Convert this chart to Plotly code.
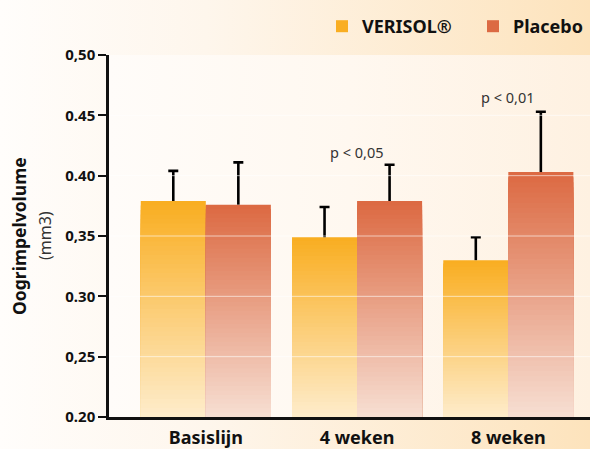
import base64
import plotly.graph_objects as go

categories = ["Basislijn", "4 weken", "8 weken"]
verisol = [0.379, 0.349, 0.330]
verisol_err = [0.025, 0.025, 0.019]
placebo = [0.376, 0.379, 0.403]
placebo_err = [0.035, 0.030, 0.050]
ytick_vals = [0.20, 0.25, 0.30, 0.35, 0.40, 0.45, 0.50]
ytick_text = ["0.20", "0,25", "0.30", "0,35", "0.40", "0.45", "0,50"]
pvals = [("4 weken", 0.42, "p < 0,05"), ("8 weken", 0.465, "p < 0,01")]

BASE = 0.20
N = 48

W, H = 590, 449
ML, MR, MT, MB = 109, 0, 55, 32
PW, PH = W - ML - MR, H - MT - MB


def hex2rgb(h):
    h = h.lstrip("#")
    return tuple(int(h[i:i + 2], 16) for i in (0, 2, 4))


def mix(c1, c2, t):
    a, b = hex2rgb(c1), hex2rgb(c2)
    return "rgb(%d,%d,%d)" % tuple(round(a[i] + (b[i] - a[i]) * t) for i in range(3))


def svg_uri(stops, direction="h"):
    x2, y2 = ("1", "0") if direction == "h" else ("0", "1")
    st = "".join('<stop offset="%s" stop-color="%s" stop-opacity="%s"/>' % s for s in stops)
    svg = ('<svg xmlns="http://www.w3.org/2000/svg" width="100" height="100" preserveAspectRatio="none">'
           '<defs><linearGradient id="g" x1="0" y1="0" x2="%s" y2="%s">%s</linearGradient></defs>'
           '<rect width="100" height="100" fill="url(#g)"/></svg>') % (x2, y2, st)
    return "data:image/svg+xml;base64," + base64.b64encode(svg.encode()).decode()


fig = go.Figure()

series = [
    ("VERISOL®", verisol, verisol_err, "#F9AE22", "#FEEDCD"),
    ("Placebo", placebo, placebo_err, "#DC6A43", "#F7E0D4"),
]

for name, vals, errs, top, bottom in series:
    for k in range(N):
        frac = (N - k) / N
        tops = [(v - BASE) * frac for v in vals]
        color = mix(bottom, top, frac)
        kw = {}
        if k == 0:
            kw["error_y"] = dict(type="data", symmetric=False, array=errs,
                                 arrayminus=[0] * len(errs), color="black",
                                 thickness=2.6, width=0)
        fig.add_trace(go.Bar(
            x=categories, y=tops, base=BASE,
            name="<b>%s</b>" % name,
            offsetgroup=name, marker=dict(color=color, line=dict(width=0)),
            showlegend=(k == 0), legendgroup=name, hoverinfo="skip", **kw))
    # caps of the error bars: zero-length error bars at the top of each whisker
    fig.add_trace(go.Bar(
        x=categories, y=[v + e - BASE for v, e in zip(vals, errs)], base=BASE,
        offsetgroup=name, marker=dict(color="rgba(0,0,0,0)", line=dict(width=0)),
        error_y=dict(type="data", array=[0] * len(vals), color="black", thickness=2.6, width=5),
        showlegend=False, hoverinfo="skip"))

# white gridlines above the bars
for v in ytick_vals[1:-1]:
    fig.add_shape(type="line", xref="paper", yref="y", x0=0, x1=1, y0=v, y1=v,
                  line=dict(color="rgba(255,255,255,0.6)", width=1), layer="above")

for cat, yv, txt in pvals:
    fig.add_annotation(x=cat, y=yv, text=txt, showarrow=False,
                       font=dict(family="Noto Sans", size=14.5, color="#333333"))

fig.add_annotation(x=(19 - ML) / PW, y=0.5, xref="paper", yref="paper",
                   xanchor="center", yanchor="middle",
                   text="<b>Oogrimpelvolume</b>", textangle=-90, showarrow=False,
                   font=dict(family="Noto Sans", size=17.5, color="#111111"))
fig.add_annotation(x=(45 - ML) / PW, y=0.5, xref="paper", yref="paper",
                   xanchor="center", yanchor="middle",
                   text="(mm3)", textangle=-90, showarrow=False,
                   font=dict(family="Noto Sans", size=16, color="#333333"))

# backgrounds
fig.add_layout_image(source=svg_uri([("0", "#FFFDFB", "1"), ("0.35", "#FEF6EC", "1"), ("1", "#FDE3BC", "1")]),
                     xref="paper", yref="paper", x=-ML / PW, y=1 + MT / PH,
                     sizex=W / PW, sizey=H / PH, sizing="stretch",
                     xanchor="left", yanchor="top", layer="below")
fig.add_layout_image(source=svg_uri([("0", "#FFFCF9", "1"), ("0.5", "#FFF8F0", "1"), ("1", "#FEF1E1", "1")]),
                     xref="paper", yref="paper", x=0, y=1, sizex=1, sizey=1,
                     sizing="stretch", xanchor="left", yanchor="top", layer="below")

fig.update_layout(
    width=W, height=H,
    margin=dict(l=ML, r=MR, t=MT, b=MB, pad=0, autoexpand=False),
    paper_bgcolor="rgba(0,0,0,0)", plot_bgcolor="rgba(0,0,0,0)",
    barmode="group", bargap=0.14, bargroupgap=0,
    showlegend=True,
    legend=dict(orientation="h", x=(322 - ML) / PW, xanchor="left", y=1 + 47 / PH, yanchor="top",
                entrywidth=106, entrywidthmode="pixels",
                font=dict(family="Noto Sans", size=18, color="#111111"),
                bgcolor="rgba(0,0,0,0)", itemclick=False, itemdoubleclick=False),
    font=dict(family="Noto Sans"),
)

fig.update_xaxes(range=[-0.64, 2.54], showline=True, linecolor="#111111", linewidth=2.5,
                 ticks="", showgrid=False, zeroline=False, ticklabelstandoff=3,
                 tickfont=dict(family="Noto Sans", size=18, color="#111111"),
                 tickvals=categories, ticktext=["<b>%s</b>" % c for c in categories],
                 layer="above traces")
fig.update_yaxes(range=[BASE, 0.5], tickvals=ytick_vals, ticktext=ytick_text,
                 showline=True, linecolor="#111111", linewidth=2.5,
                 ticks="outside", ticklen=8, tickwidth=2, tickcolor="#111111",
                 showgrid=False, zeroline=False, layer="above traces",
                 tickfont=dict(family="Noto Sans", size=15, color="#111111", weight="bold"))

fig.write_html("out.html", config={"displayModeBar": False},
               post_script="document.body.style.margin='0';")
